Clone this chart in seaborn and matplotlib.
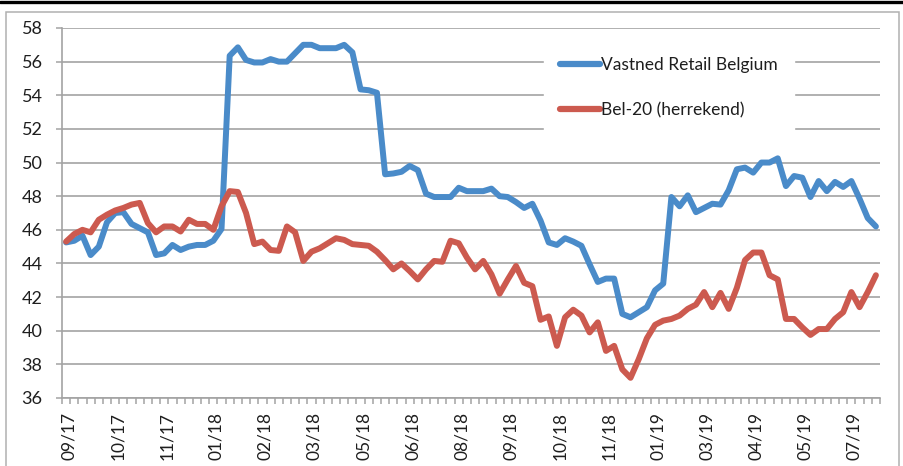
import numpy as np
import pandas as pd
import matplotlib
matplotlib.use("Agg")
import matplotlib.pyplot as plt
import matplotlib.transforms as mtransforms
from matplotlib.patches import Rectangle
from matplotlib.lines import Line2D
import seaborn as sns

vastned = [45.25, 45.35, 45.65, 44.5, 45.0, 46.45, 47.0, 47.05, 46.35, 46.1,
           45.85, 44.5, 44.6, 45.1, 44.8, 45.0, 45.1, 45.1, 45.35, 46.05,
           56.35, 56.85, 56.1, 55.95, 55.95, 56.15, 56.0, 56.0, 56.5, 57.0,
           57.0, 56.8, 56.8, 56.8, 57.0, 56.55, 54.35, 54.3, 54.15, 49.3,
           49.35, 49.45, 49.8, 49.55, 48.15, 47.95, 47.95, 47.95, 48.5, 48.3,
           48.3, 48.3, 48.45, 48.0, 47.95, 47.65, 47.3, 47.55, 46.55, 45.25,
           45.1, 45.5, 45.3, 45.05, 43.95, 42.9, 43.1, 43.1, 41.0, 40.8,
           41.1, 41.4, 42.4, 42.8, 47.95, 47.4, 48.05, 47.05, 47.3, 47.55,
           47.5, 48.35, 49.6, 49.7, 49.4, 50.0, 50.0, 50.25, 48.6, 49.2,
           49.1, 47.95, 48.9, 48.3, 48.85, 48.55, 48.9, 47.85, 46.7, 46.2]

bel20 = [45.3, 45.75, 46.0, 45.85, 46.6, 46.9, 47.15, 47.3, 47.5, 47.6,
         46.4, 45.85, 46.2, 46.2, 45.9, 46.6, 46.35, 46.35, 46.0, 47.4,
         48.3, 48.25, 47.0, 45.15, 45.3, 44.8, 44.75, 46.2, 45.85, 44.15,
         44.7, 44.9, 45.2, 45.5, 45.4, 45.15, 45.1, 45.05, 44.7, 44.2,
         43.65, 44.0, 43.55, 43.05, 43.65, 44.15, 44.1, 45.35, 45.2, 44.35,
         43.65, 44.15, 43.35, 42.2, 43.05, 43.85, 42.85, 42.65, 40.65, 40.85,
         39.1, 40.8, 41.25, 40.9, 39.9, 40.5, 38.8, 39.1, 37.7, 37.2,
         38.3, 39.55, 40.35, 40.6, 40.7, 40.9, 41.3, 41.55, 42.3, 41.4,
         42.25, 41.3, 42.55, 44.2, 44.65, 44.65, 43.3, 43.05, 40.7, 40.7,
         40.2, 39.75, 40.1, 40.1, 40.7, 41.1, 42.3, 41.4, 42.3, 43.3]

tick_labels = ["09/17", "10/17", "11/17", "01/18", "02/18", "03/18", "05/18",
               "06/18", "08/18", "09/18", "10/18", "11/18", "01/19", "03/19",
               "04/19", "05/19", "07/19"]
series_names = ["Vastned Retail Belgium", "Bel-20 (herrekend)"]

# ---- style ----
sns.set_style("white")
plt.rcParams["font.family"] = ["Lato", "DejaVu Sans"]

BLUE = "#4A8BC9"
RED = "#CC5A4F"
GRID = "#a3a3a3"
TXT = "#1e1e1e"

n = len(vastned)
idx = np.arange(n)
df = pd.DataFrame({
    "week": np.concatenate([idx, idx]),
    "value": vastned + bel20,
    "series": [series_names[0]] * n + [series_names[1]] * n,
})

W, H = 904, 466
fig = plt.figure(figsize=(W / 100, H / 100), dpi=100)
ax = fig.add_axes([62 / W, 1 - 398 / H, (880 - 62) / W, (398 - 28) / H])

sns.lineplot(data=df, x="week", y="value", hue="series",
             palette=[BLUE, RED], hue_order=series_names, ax=ax,
             linewidth=4.3, solid_joinstyle="round", sort=False,
             legend=False, zorder=3)

ax.set_xlim(-0.5, n - 0.5)
ax.set_ylim(36, 58)
ax.set_xlabel("")
ax.set_ylabel("")

# y axis
ax.set_yticks(np.arange(36, 59, 2))
ax.yaxis.grid(True, color=GRID, linewidth=1.2)
ax.xaxis.grid(False)
ax.tick_params(axis="y", which="major", length=4, width=1.1, color=GRID,
               pad=10, labelsize=13, labelcolor=TXT, left=True)

# x axis
ax.set_xticks(np.arange(0, n, 6))
ax.set_xticklabels(tick_labels, rotation=90)
ax.set_xticks(np.arange(-0.5, n, 1), minor=True)
ax.tick_params(axis="x", which="major", length=0, pad=10, labelsize=12.5,
               labelcolor=TXT, bottom=True)
ax.tick_params(axis="x", which="minor", length=4.5, width=1.1, color=GRID,
               bottom=True)
offset = mtransforms.ScaledTranslation(3 / 100, 0, fig.dpi_scale_trans)
for lab in ax.get_xticklabels():
    lab.set_transform(lab.get_transform() + offset)

for side in ["top", "right"]:
    ax.spines[side].set_visible(False)
for side in ["left", "bottom"]:
    ax.spines[side].set_color(GRID)
    ax.spines[side].set_linewidth(1.2)

# legend
handles = [Line2D([0], [0], color=BLUE, lw=4.5, solid_capstyle="round"),
           Line2D([0], [0], color=RED, lw=4.5, solid_capstyle="round")]
leg = ax.legend(handles, series_names, loc="center",
                bbox_to_anchor=(0.742, 0.839), frameon=True,
                facecolor="white", edgecolor="white", framealpha=1,
                fancybox=False, handlelength=2.3, handletextpad=0.1,
                labelspacing=1.65, borderpad=0.9, fontsize=12.5)
for t in leg.get_texts():
    t.set_color(TXT)
leg.set_zorder(5)

# chart frame and top rule
fig.add_artist(Rectangle((6 / W, -0.02), (899 - 6) / W, (H - 12) / H + 0.02,
                         transform=fig.transFigure, fill=False,
                         edgecolor="#b0b0b0", linewidth=1.1))
fig.add_artist(Line2D([0, 1], [1 - 1.5 / H, 1 - 1.5 / H],
                      transform=fig.transFigure, color="black", linewidth=2.4))

fig.savefig("out.png", dpi=100)
